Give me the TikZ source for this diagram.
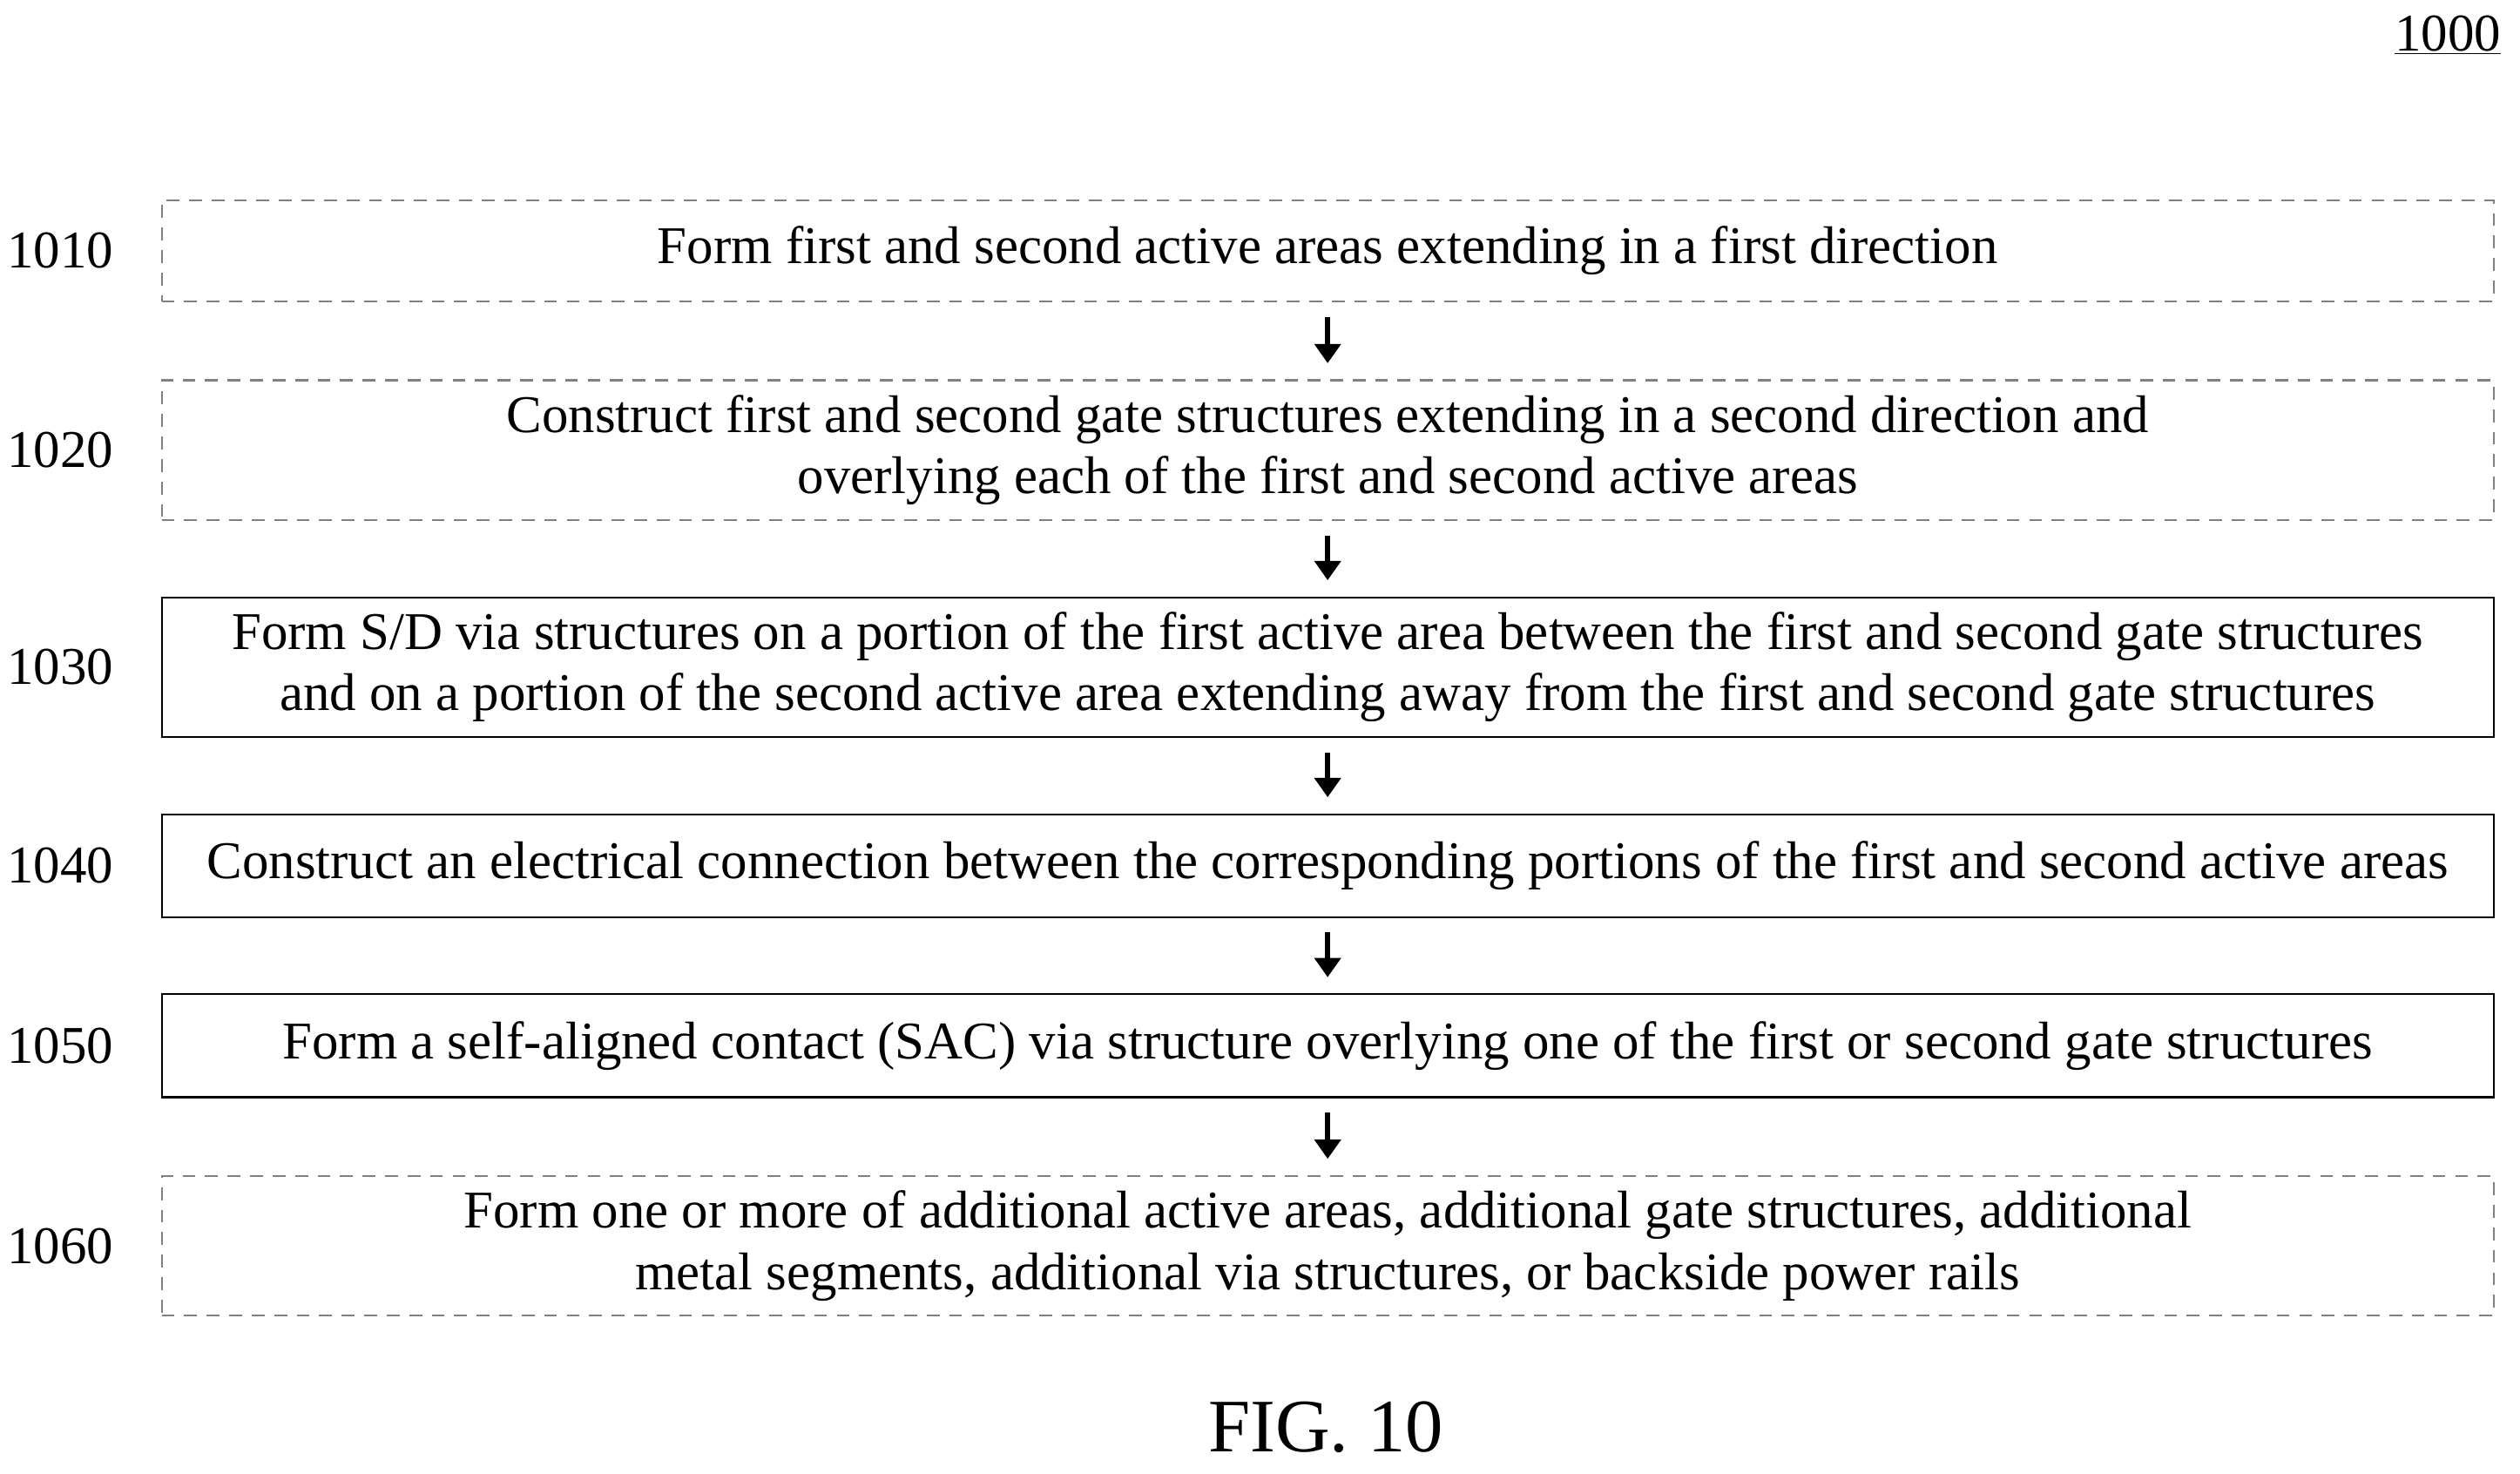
\documentclass[tikz,border=0pt]{standalone}
\usepackage{fontspec}
\setmainfont{Liberation Serif}
\usetikzlibrary{arrows.meta}
\begin{document}
\begin{tikzpicture}[x=1pt,y=-1pt,
  box/.style={draw,line width=1.2pt,minimum width=1451pt,anchor=north west,align=center,inner sep=0pt,font=\fontsize{33}{38}\selectfont},
  dbox/.style={box,draw=gray,dash pattern=on 8pt off 6pt},
  lab/.style={font=\fontsize{33}{38}\selectfont},
  arr/.style={-{Triangle[width=16pt,length=12pt]},line width=3.5pt}]
\useasboundingbox (0,0) rectangle (1568,917);
\node[lab] (n1000) at (1523,22) {\underline{1000}};
\node[dbox,minimum height=63pt] (b1) at (100,124) {Form first and second active areas extending in a first direction};
\node[dbox,minimum height=87pt] (b2) at (100,236) {Construct first and second gate structures extending in a second direction and\\overlying each of the first and second active areas};
\node[box,minimum height=87pt] (b3) at (100,371) {Form S/D via structures on a portion of the first active area between the first and second gate structures\\and on a portion of the second active area extending away from the first and second gate structures};
\node[box,minimum height=64pt] (b4) at (100,506) {Construct an electrical connection between the corresponding portions of the first and second active areas};
\node[box,minimum height=64pt] (b5) at (100,618) {Form a self-aligned contact (SAC) via structure overlying one of the first or second gate structures};
\node[dbox,minimum height=87pt] (b6) at (100,731) {Form one or more of additional active areas, additional gate structures, additional\\metal segments, additional via structures, or backside power rails};
\foreach \i/\t in {1/1010,2/1020,3/1030,4/1040,5/1050,6/1060}
  \node[lab,anchor=east] (l\i) at ([xshift=-26pt]b\i.west) {\t};
\foreach \a/\b in {1/2,2/3,3/4,4/5,5/6}
  \draw[arr] ([yshift=-9pt]b\a.south) -- ([yshift=10pt]b\b.north);
\node[font=\fontsize{47}{54}\selectfont] (fig) at (825,888) {FIG. 10};
\end{tikzpicture}
\end{document}
